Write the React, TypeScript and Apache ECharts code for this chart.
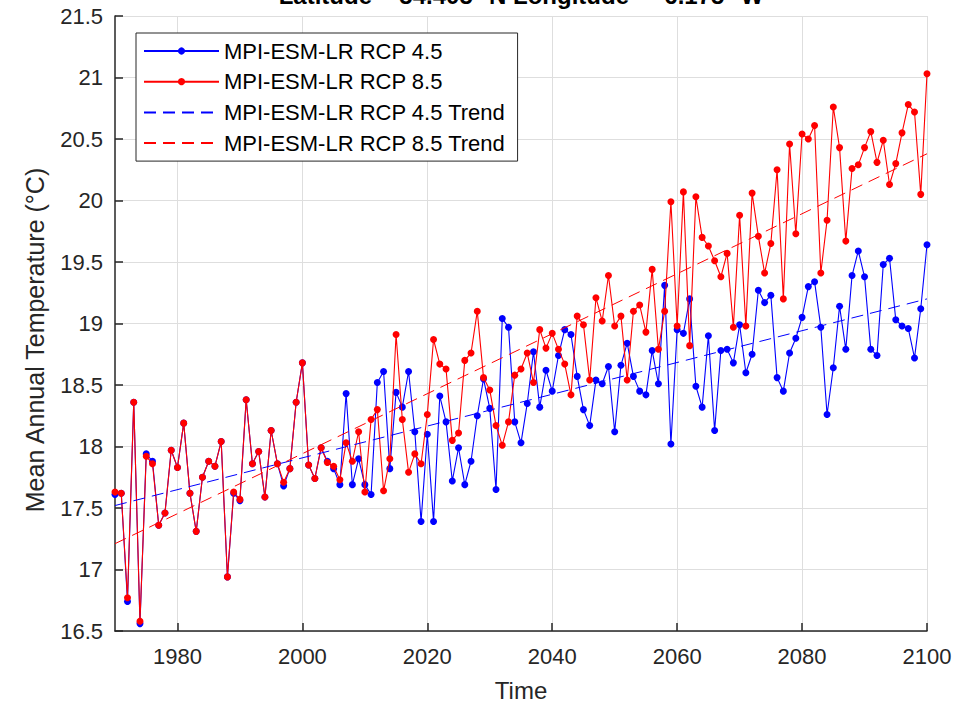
import React, { useEffect, useRef } from "react";
import * as echarts from "echarts";

// Annual mean temperature, MPI-ESM-LR downscaled, 1970–2100
const START_YEAR = 1970;

const rcp45: number[] = [
  17.61, 17.62, 16.74, 18.36, 16.56, 17.94, 17.88, 17.36, 17.46, 17.97,
  17.83, 18.19, 17.62, 17.31, 17.75, 17.88, 17.84, 18.04, 16.94, 17.62,
  17.56, 18.38, 17.86, 17.96, 17.59, 18.13, 17.86, 17.68, 17.82, 18.36,
  18.68, 17.85, 17.74, 17.99, 17.88, 17.82, 17.69, 18.43, 17.69, 17.9,
  17.69, 17.61, 18.52, 18.61, 17.82, 18.44, 18.32, 18.61, 18.12, 17.39,
  18.1, 17.39, 18.41, 18.2, 17.72, 17.99, 17.69, 17.88, 18.25, 18.55,
  18.31, 17.65, 19.04, 18.97, 18.2, 18.03, 18.35, 18.77, 18.32, 18.62,
  18.45, 18.74, 18.95, 18.91, 18.57, 18.3, 18.17, 18.54, 18.51, 18.65,
  18.12, 18.66, 18.84, 18.57, 18.45, 18.42, 18.78, 18.51, 19.31, 18.02,
  18.95, 18.92, 19.2, 18.49, 18.32, 18.9, 18.13, 18.78, 18.79, 18.68,
  18.99, 18.6, 18.75, 19.27, 19.17, 19.23, 18.56, 18.45, 18.76, 18.88,
  19.05, 19.3, 19.34, 18.97, 18.26, 18.64, 19.14, 18.79, 19.39, 19.59,
  19.38, 18.79, 18.74, 19.48, 19.53, 19.03, 18.98, 18.96, 18.72, 19.12,
  19.64,
];

const rcp85: number[] = [
  17.63, 17.62, 16.77, 18.36, 16.58, 17.92, 17.86, 17.36, 17.46, 17.97,
  17.83, 18.19, 17.62, 17.31, 17.75, 17.88, 17.84, 18.04, 16.94, 17.63,
  17.57, 18.38, 17.86, 17.96, 17.59, 18.13, 17.86, 17.71, 17.82, 18.36,
  18.68, 17.85, 17.74, 17.99, 17.87, 17.84, 17.73, 18.03, 17.88, 18.12,
  17.63, 18.22, 18.3, 17.64, 17.9, 18.91, 18.22, 17.79, 17.94, 17.86,
  18.26, 18.87, 18.67, 18.63, 18.05, 18.11, 18.7, 18.76, 19.1, 18.56,
  18.46, 18.17, 18.01, 18.2, 18.58, 18.63, 18.76, 18.52, 18.95, 18.8,
  18.92, 18.79, 18.67, 18.42, 19.06, 18.99, 18.54, 19.21, 19.02, 19.39,
  18.98, 19.06, 18.54, 19.1, 19.15, 18.93, 19.44, 18.79, 19.1, 19.99,
  18.98, 20.07, 18.82, 20.03, 19.7, 19.63, 19.51, 19.38, 19.57, 18.97,
  19.88, 18.98, 20.06, 19.71, 19.41, 19.65, 20.25, 19.2, 20.46, 19.73,
  20.54, 20.5, 20.61, 19.41, 19.84, 20.76, 20.43, 19.67, 20.26, 20.29,
  20.43, 20.56, 20.31, 20.49, 20.13, 20.3, 20.55, 20.78, 20.72, 20.05,
  21.03,
];

// Linear trend lines (end points)
const trendYears: number[] = [1970, 2100];
const trend45: number[] = [17.52, 19.2];
const trend85: number[] = [17.21, 20.38];

const xTicks: number[] = [1980, 2000, 2020, 2040, 2060, 2080, 2100];

const NAMES = [
  "MPI-ESM-LR RCP 4.5",
  "MPI-ESM-LR RCP 8.5",
  "MPI-ESM-LR RCP 4.5 Trend",
  "MPI-ESM-LR RCP 8.5 Trend",
];

const TITLE = "Latitude = 54.405 °N Longitude = -6.175 °W";
const Y_NAME = "Mean Annual Temperature (°C)";

const years = rcp45.map((_, i) => START_YEAR + i);
const pairs = (xs: number[], ys: number[]) => xs.map((x, i) => [x, ys[i]]);

const FONT = '"Liberation Sans", Arial, Helvetica, sans-serif';
const AXIS_COLOR = "#262626";
const GRID_COLOR = "#dedede";

export default function App() {
  const ref = useRef<HTMLDivElement>(null);

  useEffect(() => {
    if (!ref.current) return;
    const chart = echarts.init(ref.current, undefined, { renderer: "svg" });

    chart.setOption({
      animation: false,
      backgroundColor: "#ffffff",
      textStyle: { fontFamily: FONT },
      grid: { left: 115, right: 53, top: 16, bottom: 77 },
      graphic: [
        {
          type: "text",
          x: 521,
          y: -5,
          style: {
            text: TITLE,
            font: `bold 24px ${FONT}`,
            fill: "#000000",
            textAlign: "center",
            textVerticalAlign: "middle",
          },
        },
        {
          type: "text",
          x: 35,
          y: 340,
          rotation: Math.PI / 2,
          style: {
            text: Y_NAME,
            font: `25px ${FONT}`,
            fill: AXIS_COLOR,
            textAlign: "center",
            textVerticalAlign: "middle",
          },
        },
      ],
      legend: {
        orient: "vertical",
        left: 136,
        top: 33,
        data: [
          { name: NAMES[0] },
          { name: NAMES[1] },
          { name: NAMES[2], itemStyle: { opacity: 0 } },
          { name: NAMES[3], itemStyle: { opacity: 0 } },
        ],
        itemWidth: 75,
        itemHeight: 9,
        itemGap: 8.7,
        padding: [7, 12, 7, 7],
        borderColor: AXIS_COLOR,
        borderWidth: 1,
        backgroundColor: "#ffffff",
        textStyle: { fontSize: 22, color: "#000000", fontFamily: FONT },
      },
      xAxis: {
        type: "value",
        min: 1970,
        max: 2100,
        name: "Time",
        nameLocation: "middle",
        nameGap: 47,
        nameTextStyle: { fontSize: 24, color: AXIS_COLOR, fontFamily: FONT },
        axisLine: { onZero: false, lineStyle: { color: AXIS_COLOR, width: 1.5 } },
        axisTick: {
          inside: true,
          length: 8,
          customValues: xTicks,
          lineStyle: { color: AXIS_COLOR, width: 1.5 },
        },
        axisLabel: {
          customValues: xTicks,
          formatter: (v: number) => String(v),
          fontSize: 22,
          color: AXIS_COLOR,
          margin: 14,
          fontFamily: FONT,
        },
        splitLine: { show: true, lineStyle: { color: GRID_COLOR, width: 1 } },
      },
      yAxis: {
        type: "value",
        min: 16.5,
        max: 21.5,
        interval: 0.5,
        axisLine: { show: true, onZero: false, lineStyle: { color: AXIS_COLOR, width: 1.5 } },
        axisTick: { show: true, inside: true, length: 8, lineStyle: { color: AXIS_COLOR, width: 1.5 } },
        axisLabel: { fontSize: 22, color: AXIS_COLOR, margin: 12, fontFamily: FONT },
        splitLine: { show: true, lineStyle: { color: GRID_COLOR, width: 1 } },
      },
      series: [
        {
          name: NAMES[0],
          type: "line",
          data: pairs(years, rcp45),
          symbol: "circle",
          symbolSize: 7,
          lineStyle: { color: "#0000ff", width: 1.1 },
          itemStyle: { color: "#0000ff" },
          z: 2,
        },
        {
          name: NAMES[1],
          type: "line",
          data: pairs(years, rcp85),
          symbol: "circle",
          symbolSize: 7,
          lineStyle: { color: "#ff0000", width: 1.1 },
          itemStyle: { color: "#ff0000" },
          z: 3,
        },
        {
          name: NAMES[2],
          type: "line",
          data: pairs(trendYears, trend45),
          symbol: "none",
          lineStyle: { color: "#0000ff", width: 1, type: [12, 7] },
          itemStyle: { color: "#0000ff" },
          z: 4,
        },
        {
          name: NAMES[3],
          type: "line",
          data: pairs(trendYears, trend85),
          symbol: "none",
          lineStyle: { color: "#ff0000", width: 1, type: [12, 7] },
          itemStyle: { color: "#ff0000" },
          z: 5,
        },
      ],
    });

    return () => chart.dispose();
  }, []);

  return (
    <div
      ref={ref}
      style={{ position: "fixed", left: 0, top: 0, width: 980, height: 708 }}
    />
  );
}
